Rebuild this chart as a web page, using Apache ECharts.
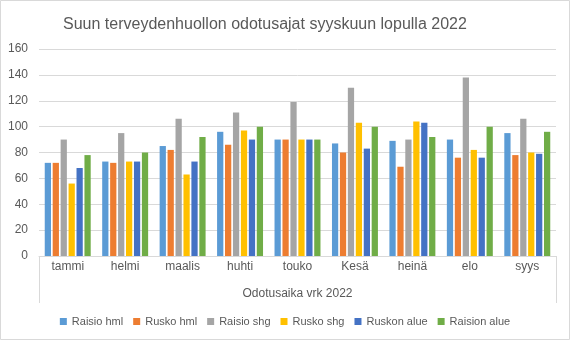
<!DOCTYPE html>
<html>
<head>
<meta charset="utf-8">
<script src="https://cdn.jsdelivr.net/npm/echarts@6/dist/echarts.min.js"></script>
<style>
  html, body { margin: 0; padding: 0; background: #fff; }
  #chart { width: 570px; height: 340px; }
</style>
</head>
<body>
<div id="chart"></div>
<script>
// Months on the category axis
const months = ['tammi', 'helmi', 'maalis', 'huhti', 'touko', 'Kesä', 'heinä', 'elo', 'syys'];
const groupLabel = ['Odotusaika vrk 2022'];

// Waiting times in days per unit
const raisioHml   = [72, 73, 85, 96, 90, 87, 89, 90, 95];
const ruskoHml    = [72, 72, 82, 86, 90, 80, 69, 76, 78];
const raisioShg   = [90, 95, 106, 111, 119, 130, 90, 138, 106];
const ruskoShg    = [56, 73, 63, 97, 90, 103, 104, 82, 80];
const ruskonAlue  = [68, 73, 73, 90, 90, 83, 103, 76, 79];
const raisionAlue = [78, 80, 92, 100, 90, 100, 92, 100, 96];

const seriesDefs = [
  ['Raisio hml', raisioHml, '#5B9BD5'],
  ['Rusko hml', ruskoHml, '#ED7D31'],
  ['Raisio shg', raisioShg, '#A5A5A5'],
  ['Rusko shg', ruskoShg, '#FFC000'],
  ['Ruskon alue', ruskonAlue, '#4472C4'],
  ['Raision alue', raisionAlue, '#70AD47']
];

const font = '"Liberation Sans", sans-serif';
const textColor = '#595959';

const chart = echarts.init(document.getElementById('chart'), null, { renderer: 'canvas' });

chart.setOption({
  animation: false,
  backgroundColor: '#fff',
  title: {
    text: 'Suun terveydenhuollon odotusajat syyskuun lopulla 2022',
    left: 58,
    top: 12,
    textStyle: { fontFamily: font, fontSize: 16, fontWeight: 'normal', color: textColor }
  },
  legend: {
    bottom: 8,
    left: 'center',
    itemWidth: 7,
    itemHeight: 7,
    itemGap: 10,
    icon: 'rect',
    textStyle: { fontFamily: font, fontSize: 11, color: textColor }
  },
  grid: { left: 39, right: 14, top: 49, bottom: 84, containLabel: false },
  xAxis: [
    {
      type: 'category',
      data: months,
      axisLine: { lineStyle: { color: '#D9D9D9' } },
      axisTick: { show: false },
      axisLabel: { fontFamily: font, fontSize: 12, color: textColor, margin: 5 }
    },
    {
      type: 'category',
      data: groupLabel,
      position: 'bottom',
      axisLine: { show: false },
      axisTick: { show: true, length: 47, lineStyle: { color: '#D9D9D9' } },
      axisLabel: { fontFamily: font, fontSize: 12, color: textColor, margin: 32 }
    }
  ],
  yAxis: {
    type: 'value',
    min: 0,
    max: 160,
    interval: 20,
    axisLine: { show: false },
    axisTick: { show: false },
    splitLine: { lineStyle: { color: '#D9D9D9' } },
    axisLabel: { fontFamily: font, fontSize: 12, color: textColor, margin: 11 }
  },
  series: seriesDefs.map(([name, data, color]) => ({
    name,
    type: 'bar',
    xAxisIndex: 0,
    data,
    itemStyle: { color },
    barGap: '27%',
    barCategoryGap: '20%'
  })),
  graphic: [{
    type: 'rect',
    shape: { x: 0.5, y: 0.5, width: 569, height: 339 },
    style: { fill: 'none', stroke: '#D9D9D9', lineWidth: 1 },
    silent: true
  }]
});
</script>
</body>
</html>
